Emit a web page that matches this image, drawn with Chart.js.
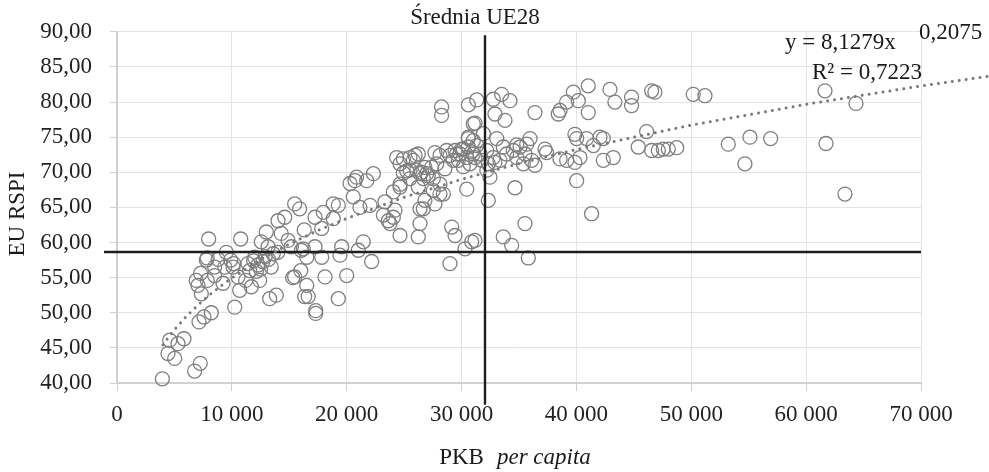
<!DOCTYPE html>
<html><head><meta charset="utf-8">
<script src="https://cdn.jsdelivr.net/npm/chart.js@4.4.1/dist/chart.umd.min.js"></script>
<style>html,body{margin:0;padding:0;background:#fff;}canvas{display:block;}</style>
</head><body>
<canvas id="c" width="989" height="472"></canvas>
<script>
// GDP per capita (PKB per capita) of regions
const GDP = [3950,4440,5020,4590,5310,5830,6760,7250,7140,7570,8210,7340,7050,7280,7860,7780,7980,7850,8500,8500,9380,9230,9520,10100,10150,10530,10680,10250,10770,11400,11550,11700,11990,11900,12280,12420,12130,12560,13000,13150,13430,13290,13870,14020,14600,14300,14890,15180,15470,15900,15470,15300,16050,16340,8800,12700,12900,13200,12500,13600,11200,14000,9900,6900,
17240,17960,17820,18830,19270,18830,20570,20720,20860,21740,22320,21150,22030,23330,23190,23620,24060,24200,24640,23770,24060,24640,24640,24930,25220,25510,24930,25800,26230,26380,26810,26670,26960,26810,26380,26380,26230,27680,27830,27540,27680,28120,28410,28700,29280,29570,29140,29430,28990,30300,30880,31170,30450,30150,31020,30730,31320,30590,31020,
16220,17240,16520,16000,16520,16650,17820,18110,17300,17300,19270,19560,19410,20000,21010,21440,22170,16300,
24350,25510,25950,25510,26090,26520,27100,27390,28120,28550,28990,29430,29860,30000,30440,30590,30880,31170,31610,31750,30590,31020,27540,24640,26230,28120,26670,
28260,28260,30590,31320,31170,29720,30150,20290,32470,32330,
33490,32760,34210,32910,33780,36390,38570,38420,39150,39730,40160,41030,41030,42920,43350,44800,44800,46550,46830,
33060,31900,32190,33630,33920,32760,32330,32900,33340,34500,34800,35090,35670,35960,35520,35380,36100,36390,37260,37400,38570,39150,39870,40020,39870,40310,40890,41470,42050,42340,42340,43210,40020,34650,41320,35520,33630,34360,35810,46110,45380,46550,47130,
50170,51190,47560,48000,48730,53220,55110,54670,56910,61640,64340,61730,63380,34800,32200];
// EU Regional Social Progress Index
const RSPI = [40.6,44.2,43.5,46.1,45.6,46.3,41.7,42.8,48.7,49.4,50.0,52.7,53.9,55.6,54.6,57.5,60.5,57.8,56.5,55.3,56.5,54.2,58.6,56.5,57.0,55.1,53.2,50.8,60.5,57.0,56.0,53.7,57.9,57.4,56.8,54.6,55.9,60.1,61.5,59.4,56.5,52.0,52.5,63.1,63.6,61.3,60.3,59.4,65.5,64.8,55.1,55.0,58.9,52.3,57.6,57.3,58.0,57.6,56.2,58.4,54.6,58.6,57.5,54.6,
63.6,64.3,62.0,65.5,65.3,63.4,66.5,68.8,69.3,68.8,69.8,65.0,65.3,65.8,63.9,63.1,63.6,64.6,61.0,62.7,67.2,68.3,71.2,71.9,70.2,69.1,69.9,71.7,72.6,69.8,70.7,69.1,69.8,66.0,64.8,62.7,60.8,72.8,71.2,69.1,65.5,68.3,66.9,73.1,71.7,72.6,62.2,61.0,57.0,59.1,60.1,60.3,67.6,73.3,72.6,71.2,73.8,74.8,76.9,
59.1,59.4,57.9,56.0,53.9,52.3,57.9,55.1,49.9,50.3,52.0,59.4,58.2,55.3,58.9,60.1,57.3,61.8,
72.1,72.1,72.4,70.3,70.3,70.0,69.5,70.7,72.4,70.5,72.4,73.1,72.6,73.3,72.1,73.6,72.9,72.1,72.6,71.7,75.0,74.5,67.4,67.9,67.9,66.9,64.8,
79.3,78.1,79.6,80.3,77.0,71.7,70.8,68.4,69.3,66.0,
81.1,80.4,80.2,78.3,77.4,78.5,78.8,78.3,80.0,81.4,80.2,82.3,78.5,81.8,80.0,80.7,79.5,81.6,81.4,
74.8,75.5,73.1,73.6,72.6,72.1,71.2,71.4,71.7,73.1,72.1,73.6,74.0,74.8,72.6,71.2,71.7,71.0,73.3,72.8,71.9,71.7,75.4,74.8,71.4,72.1,74.8,73.8,75.0,74.8,71.7,72.1,68.8,67.8,64.1,62.7,60.8,59.6,57.8,75.8,73.6,73.1,73.1,
81.1,80.9,73.3,73.3,73.5,74.0,75.0,71.2,74.8,81.6,79.8,74.1,66.9,73.9,70.3];
// power trendline y = 8,1279x^0,2075 (read points)
const TREND_X = [4000,4500,5000,6000,7000,8000,9000,10000,12500,15000,17500,20000,25000,30000,35000,40000,50000,60000,70000,76000];
const TREND_Y = [45.44,46.56,47.59,49.42,51.03,52.46,53.76,54.95,57.56,59.78,61.72,63.43,66.44,69.00,71.25,73.25,76.72,79.68,82.29,83.70];
// EU28 averages
const AVG_GDP = 32040;
const AVG_RSPI = 58.65;
const X_TICKS = [0,10000,20000,30000,40000,50000,60000,70000];
const Y_TICKS = [40,45,50,55,60,65,70,75,80,85,90];

const FONT = "'Liberation Serif', 'Times New Roman', serif";
const pts = GDP.map((x,i)=>({x:x, y:RSPI[i]}));
const trend = TREND_X.map((x,i)=>({x:x, y:TREND_Y[i]}));

const textPlugin = {
  id:'texts',
  afterDraw(chart){
    const ctx = chart.ctx;
    ctx.save();
    ctx.fillStyle = '#1a1a1a';
    ctx.textBaseline = 'middle';
    ctx.font = '23px ' + FONT;
    ctx.textAlign = 'center';
    ctx.fillText('Średnia UE28', 475, 18);
    ctx.textAlign = 'left';
    ctx.fillText('y = 8,1279x', 785, 43);
    ctx.fillText('0,2075', 919, 33);
    ctx.fillText('R² = 0,7223', 812, 73);
    // x axis title
    const a = 'PKB', b = 'per capita';
    ctx.font = '23px ' + FONT;
    const wa = ctx.measureText(a).width;
    ctx.font = 'italic 23px ' + FONT;
    const wb = ctx.measureText(b).width;
    const gap = 13;
    const total = wa + gap + wb;
    let sx = 515 - total/2;
    ctx.font = '23px ' + FONT;
    ctx.fillText(a, sx, 458);
    ctx.font = 'italic 23px ' + FONT;
    ctx.fillText(b, sx + wa + gap, 458);
    // y axis title
    ctx.font = '23px ' + FONT;
    ctx.translate(18, 214);
    ctx.rotate(-Math.PI/2);
    ctx.textAlign = 'center';
    ctx.fillText('EU RSPI', 0, 0);
    ctx.restore();
  }
};

new Chart(document.getElementById('c'), {
  type:'scatter',
  data:{datasets:[
    {label:'trend', type:'line', data:trend, borderColor:'#7a7a7a', borderWidth:3, borderDash:[0.01,7], borderCapStyle:'round', pointRadius:0, fill:false, tension:0, clip:false, order:0},
    {label:'avgX', type:'line', data:[{x:AVG_GDP,y:89.5},{x:AVG_GDP,y:36.9}], borderColor:'#1e1e1e', borderWidth:2.4, pointRadius:0, clip:false, order:0},
    {label:'avgY', type:'line', data:[{x:-1130,y:AVG_RSPI},{x:70000,y:AVG_RSPI}], borderColor:'#1e1e1e', borderWidth:2.4, pointRadius:0, clip:false, order:0},
    {label:'regions', data:pts, pointRadius:7, pointBorderWidth:1.3, pointBorderColor:'#7f7f7f', pointBackgroundColor:'rgba(0,0,0,0)', order:1, clip:false}
  ]},
  options:{
    responsive:false, animation:false, devicePixelRatio:1,
    layout:{padding:{left:0, top:31, right:68, bottom:0}},
    plugins:{legend:{display:false}, tooltip:{enabled:false}},
    scales:{
      x:{type:'linear', bounds:'data',
        afterDataLimits(s){ s.min = 0; s.max = 70000; },
        afterBuildTicks(s){ s.min = 0; s.max = 70000; s.ticks = X_TICKS.map(v=>({value:v})); },
        afterFit(s){ s.height = 89; },
        grid:{color:'#e4e4e4', lineWidth:1, tickLength:8, tickColor:'#d0d0d0'},
        border:{color:'#d0d0d0', width:2},
        ticks:{padding:10, color:'#222', font:{family:FONT, size:23},
          callback:v=> v===0 ? '0' : (Math.round(v/1000) + ' 000')}
      },
      y:{type:'linear', min:40, max:90,
        afterBuildTicks(s){ s.ticks = Y_TICKS.map(v=>({value:v})); },
        afterFit(s){ s.width = 117; },
        grid:{color:'#e4e4e4', lineWidth:1, tickLength:7, tickColor:'#d0d0d0'},
        border:{color:'#d0d0d0', width:2},
        ticks:{padding:18, color:'#222', font:{family:FONT, size:23},
          callback:v=> v.toFixed(2).replace('.', ',')}
      }
    }
  },
  plugins:[textPlugin]
});
</script>
</body></html>
